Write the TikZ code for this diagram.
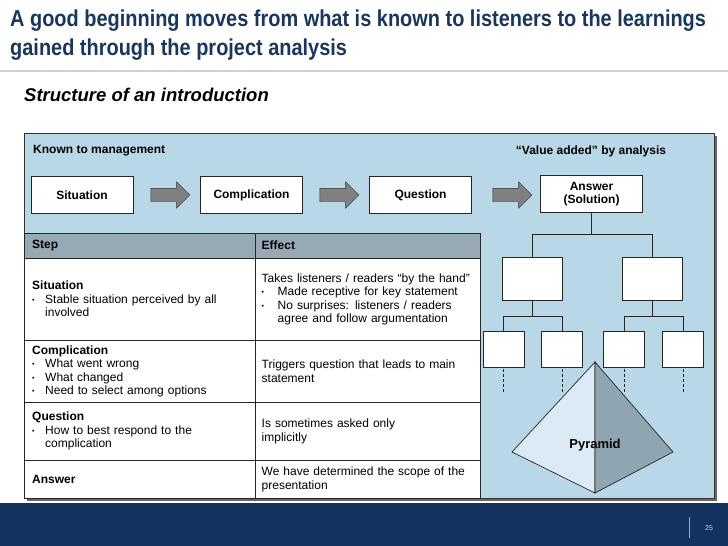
\documentclass[tikz,border=0pt]{standalone}
\usepackage{fontspec}
\setmainfont{Liberation Sans}
\newfontfamily\narrowfont[FakeStretch=0.867]{Liberation Sans}
\usepackage{tikz}
\usetikzlibrary{shapes.arrows,positioning,calc}
\definecolor{titlenavy}{RGB}{24,55,95}
\definecolor{panelblue}{RGB}{185,216,231}
\definecolor{headgray}{RGB}{150,169,181}
\definecolor{footnavy}{RGB}{20,50,96}
\definecolor{pyrlight}{RGB}{220,234,246}
\definecolor{pyrdark}{RGB}{143,166,178}
\tikzset{
  flowbox/.style={draw=black!85,fill=white,align=center,minimum width=102pt,
              minimum height=37pt,inner sep=2pt,font=\bfseries\fontsize{12}{13.5}\selectfont},
  blockar/.style={single arrow,draw=black!80,fill=black!50,minimum height=39pt,
              single arrow head extend=6.5pt,inner xsep=0pt,inner ysep=6.5pt},
  cell/.style={draw=black!85,fill=white,anchor=north west,align=left,inner xsep=8pt,
              inner ysep=2pt,font=\fontsize{12}{13.5}\selectfont},
  headcell/.style={cell,fill=headgray,font=\bfseries\fontsize{12}{13.5}\selectfont},
  treebox/.style={draw=black!85,fill=white,minimum width=60pt,minimum height=43pt,inner sep=0pt},
  leafbox/.style={treebox,minimum width=41pt,minimum height=36pt},
  lbl/.style={font=\bfseries\fontsize{12}{13.5}\selectfont,inner sep=0pt}
}
% bullet line with hanging text
\newcommand{\bitem}[2][13pt]{\par\noindent\hbox to #1{\raisebox{1pt}{\fontsize{7}{7}\selectfont\textbullet}\hfil}%
  \parbox[t]{\dimexpr\hsize-#1\relax}{\raggedright #2}}

\begin{document}
\begin{tikzpicture}[x=1pt,y=-1pt,
  conn/.style={draw=black!85,line width=0.8pt},
  dots/.style={conn,dashed,dash pattern=on 3pt off 2pt,shorten <=2pt}]
  \useasboundingbox (0,0) rectangle (728,546);

  % title area
  \node[anchor=base west,inner sep=0pt,text=titlenavy,font=\narrowfont\bfseries\fontsize{23}{28}\selectfont]
    (title1) at (10,27) {A good beginning moves from what is known to listeners to the learnings};
  \node[anchor=base west,inner sep=0pt,text=titlenavy,font=\narrowfont\bfseries\fontsize{23}{28}\selectfont]
    (title2) at (10,55) {gained through the project analysis};
  \draw[black!18,line width=2pt] (0,71) -- (728,71);
  \node[anchor=base west,inner sep=0pt,font=\bfseries\itshape\fontsize{18.5}{20}\selectfont]
    (sub) at (24,101) {Structure of an introduction};

  % panel
  \fill[black!60] (27,136) rectangle (717,501);
  \draw[fill=panelblue,draw=black!80,line width=0.8pt] (24,133) rectangle (714,498);
  \node[lbl,anchor=base west] (known) at (33,153) {Known to management};
  \node[lbl,anchor=base] (added) at (591,154) {``Value added'' by analysis};

  \node[flowbox] (sit) at (82,195) {Situation};
  \node[flowbox] (comp) at (251.5,195) {Complication};
  \node[flowbox] (ques) at (420.5,195) {Question};
  \node[flowbox] (ans) at (591.5,194) {Answer\\(Solution)};
  \node[blockar] (ar1) at (167,195) {};
  \node[blockar] (ar2) at (336,195) {};
  \node[blockar] (ar3) at (509,195) {};

  % table
  \node[headcell,text width=215pt,minimum height=25pt] (hstep) at (24,233) {Step};
  \node[headcell,text width=212pt,inner xsep=6.5pt,minimum height=25pt] (heff) at (255,233) {Effect};
  \node[cell,text width=215pt,minimum height=82pt] (st1) at (24,258)
    {\textbf{Situation}\bitem{Stable situation perceived by all\\involved}};
  \node[cell,text width=212pt,inner xsep=6.5pt,minimum height=82pt] (ef1) at (255,258)
    {Takes listeners / readers ``by the hand''\bitem[16pt]{Made receptive for key statement}%
     \bitem[16pt]{No surprises: listeners / readers\\agree and follow argumentation}};
  \node[cell,text width=215pt,minimum height=62pt] (st2) at (24,340)
    {\textbf{Complication}\bitem{What went wrong}\bitem{What changed}\bitem{Need to select among options}};
  \node[cell,text width=212pt,inner xsep=6.5pt,minimum height=62pt] (ef2) at (255,340)
    {Triggers question that leads to main\\statement};
  \node[cell,text width=215pt,minimum height=58pt] (st3) at (24,402)
    {\textbf{Question}\bitem{How to best respond to the\\complication}};
  \node[cell,text width=212pt,inner xsep=6.5pt,minimum height=58pt] (ef3) at (255,402)
    {Is sometimes asked only\\implicitly};
  \node[cell,text width=215pt,minimum height=38pt] (st4) at (24,460) {\textbf{Answer}};
  \node[cell,text width=212pt,inner xsep=6.5pt,minimum height=38pt] (ef4) at (255,460)
    {We have determined the scope of the\\presentation};

  % tree
  \node[treebox] (m1) at (532,279) {};
  \node[treebox] (m2) at (652,279) {};
  \node[leafbox] (s1) at (503.5,349) {};
  \node[leafbox] (s2) at (562,349) {};
  \node[leafbox] (s3) at (624,349) {};
  \node[leafbox] (s4) at (683,349) {};
  \coordinate (j0) at (ans.south |- 0,234);
  \coordinate (j1) at (m1.south |- 0,316);
  \coordinate (j2) at (m2.south |- 0,316);
  \draw[conn] (ans.south) -- (j0) -| (m1.north);
  \draw[conn] (j0) -| (m2.north);
  \draw[conn] (m1.south) -- (j1) -| (s1.north);
  \draw[conn] (j1) -| (s2.north);
  \draw[conn] (m2.south) -- (j2) -| (s3.north);
  \draw[conn] (j2) -| (s4.north);
  \foreach \s in {s1,s2,s3,s4}
    \draw[dots] (\s.south) -- ++(0,25);

  % pyramid
  \coordinate (apex) at (595,362);
  \coordinate (pl) at (512,452);
  \coordinate (pr) at (673,452);
  \coordinate (pb) at (595,493);
  \draw[fill=pyrlight,draw=black!85,line width=0.7pt] (apex) -- (pl) -- (pb) -- cycle;
  \draw[fill=pyrdark,draw=black!85,line width=0.7pt] (apex) -- (pr) -- (pb) -- cycle;
  \node[lbl,font=\bfseries\fontsize{13}{14}\selectfont] (pyr) at (595,445) {Pyramid};

  % footer
  \fill[footnavy] (0,503) rectangle (728,546);
  \draw[black!25!footnavy!40!white,line width=0.8pt] (689,517) -- (689,538);
  \node[text=white!85!footnavy,font=\fontsize{7}{8}\selectfont,inner sep=0pt] (pg) at (709,528) {25};
\end{tikzpicture}
\end{document}
